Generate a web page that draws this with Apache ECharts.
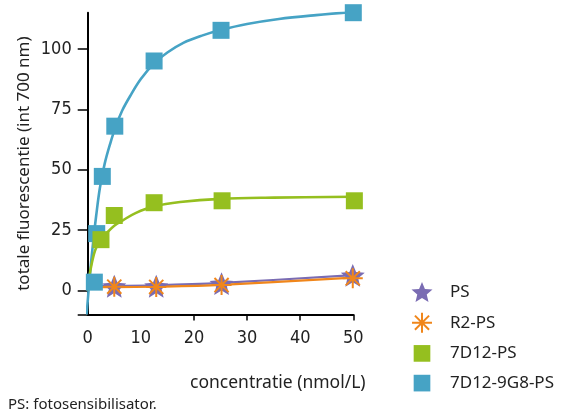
<!DOCTYPE html>
<html>
<head>
<meta charset="utf-8">
<script src="https://cdn.jsdelivr.net/npm/echarts@6/dist/echarts.min.js"></script>
<style>
  html, body { margin: 0; padding: 0; background: #fff; }
  #chart { width: 567px; height: 413px; }
</style>
</head>
<body>
<div id="chart"></div>
<script>
// Measured fluorescence (int 700 nm) against concentration (nmol/L)
const psX = [5.0, 12.9, 25.2, 49.9];
const psY = [1.7, 1.7, 2.8, 6.2];

const r2psX = [5.0, 12.9, 25.2, 49.9];
const r2psY = [1.5, 1.4, 2.2, 5.0];

const d7psX = [2.5, 5.0, 12.5, 25.3, 50.2];
const d7psY = [21.0, 31.0, 36.3, 37.1, 37.1];

const d9psX = [1.25, 1.7, 2.75, 5.1, 12.5, 25.1, 50.0];
const d9psY = [3.4, 23.5, 47.2, 68.0, 95.0, 107.7, 115.0];

// Fitted binding curves
const psFitX = [1.2, 5.0, 12.9, 25.2, 50.0];
const psFitY = [1.9, 1.9, 2.1, 3.1, 6.3];

const r2psFitX = [1.2, 5.0, 12.9, 25.2, 50.0];
const r2psFitY = [1.3, 1.3, 1.5, 2.3, 5.3];

const d7psFitX = [0, 0.3, 0.8, 1.4, 2.3, 3.6, 5.0, 6.6, 9.0, 12.5, 17.4, 25.0, 35.0, 50.0];
const d7psFitY = [0, 5.5, 11.5, 16.6, 20.5, 23.8, 26.8, 29.0, 32.0, 34.8, 36.6, 37.9, 38.4, 38.8];

const d9psFitX = [-0.2, 0.4, 1.0, 1.6, 2.3, 3.2, 4.2, 5.3, 6.5, 8.0, 10.0, 12.5, 15.0, 18.0, 21.5, 25.0, 30.0, 36.0, 43.0, 50.0];
const d9psFitY = [-10, 6, 19.5, 31, 42.5, 52.5, 60.5, 68, 74.5, 80.5, 87.5, 94, 98.5, 102.5, 105.5, 107.8, 110.3, 112.4, 114, 115.3];

// Axis ticks
const xLabels = [0, 10, 20, 30, 40, 50];
const xTicks = [20, 30, 40, 50];
const yLabels = [0, 25, 50, 75, 100];
const yTicks = [-10, 0, 25, 50, 75, 100];

const seriesNames = ['PS', 'R2-PS', '7D12-PS', '7D12-9G8-PS'];

const colPS = '#7a6cb3';
const colR2 = '#f0861b';
const colGreen = '#95bf1f';
const colBlue = '#46a3c5';

const starPath = 'path://M50,0L63.2,31.8L97.6,34.5L71.4,57L79.4,90.5L50,72.5L20.6,90.5L28.6,57L2.4,34.5L36.8,31.8Z';
const asteriskPath = 'path://M0,-10L0,10M-10,0L10,0M-7.07,-7.07L7.07,7.07M-7.07,7.07L7.07,-7.07';
const squarePath = 'path://M0,0H10V10H0Z';
// legend square with an empty margin so it sits a little smaller than the star
const legendSquarePath = 'path://M-1,-1L-1,-1M11,11L11,11M0,0H10V10H0Z';

const zip = (xs, ys) => xs.map((x, i) => [x, ys[i]]);

const labelFont = "'Liberation Sans Narrow', 'DejaVu Sans Condensed', sans-serif";
const textFont = "'Noto Sans', 'DejaVu Sans', sans-serif";

const fitLine = (name, xs, ys, color, width, z) => ({
  name: name,
  type: 'line',
  data: zip(xs, ys),
  showSymbol: false,
  symbol: 'none',
  smooth: 0.35,
  lineStyle: { color: color, width: width },
  z: z,
  silent: true
});

const chart = echarts.init(document.getElementById('chart'), null, { renderer: 'canvas' });

chart.setOption({
  animation: false,
  backgroundColor: '#fff',
  grid: { left: 87.7, right: 213.7, top: 12.7, bottom: 98.5, containLabel: false },
  xAxis: {
    type: 'value',
    min: 0,
    max: 50,
    interval: 10,
    splitLine: { show: false },
    axisLine: { onZero: false, lineStyle: { color: '#000', width: 2 } },
    axisTick: { customValues: xTicks, length: 6, lineStyle: { color: '#000', width: 1.5 } },
    axisLabel: { customValues: xLabels, margin: 15, fontSize: 18, color: '#222', fontFamily: labelFont }
  },
  yAxis: {
    type: 'value',
    min: -10,
    max: 115,
    splitLine: { show: false },
    axisLine: { onZero: false, lineStyle: { color: '#000', width: 2 } },
    axisTick: { customValues: yTicks, length: 10, lineStyle: { color: '#000', width: 1.5 } },
    axisLabel: { customValues: yLabels, margin: 16, fontSize: 18, color: '#222', fontFamily: labelFont },
    name: 'totale fluorescentie (int 700 nm)',
    nameLocation: 'middle',
    nameGap: 55,
    nameTextStyle: { fontSize: 17, color: '#222', fontFamily: textFont }
  },
  legend: {
    orient: 'vertical',
    left: 406,
    top: 277,
    itemWidth: 46,
    itemHeight: 20,
    itemGap: 9.7,
    textStyle: { fontSize: 17, color: '#222', fontFamily: textFont },
    data: [
      { name: 'PS', icon: starPath, itemStyle: { color: colPS } },
      { name: 'R2-PS', icon: asteriskPath, itemStyle: { color: 'rgba(0,0,0,0)', borderColor: colR2, borderWidth: 2 } },
      { name: '7D12-PS', icon: legendSquarePath, itemStyle: { color: colGreen } },
      { name: '7D12-9G8-PS', icon: legendSquarePath, itemStyle: { color: colBlue } }
    ]
  },
  graphic: [
    {
      type: 'text',
      left: 190,
      top: 374,
      style: { text: 'concentratie (nmol/L)', fontSize: 17.5, fill: '#222', fontFamily: textFont }
    },
    {
      type: 'text',
      left: 8,
      top: 397,
      style: { text: 'PS: fotosensibilisator.', fontSize: 15, fill: '#222', fontFamily: textFont }
    }
  ],
  series: [
    fitLine('fit 7D12-9G8-PS', d9psFitX, d9psFitY, colBlue, 2.6, 2),
    fitLine('fit 7D12-PS', d7psFitX, d7psFitY, colGreen, 2.6, 2),
    fitLine('fit PS', psFitX, psFitY, colPS, 2.2, 2),
    fitLine('fit R2-PS', r2psFitX, r2psFitY, colR2, 2.2, 2),
    {
      name: seriesNames[3],
      type: 'scatter',
      data: zip(d9psX, d9psY),
      symbol: squarePath,
      symbolSize: 17,
      clip: false,
      itemStyle: { color: colBlue, opacity: 1 },
      z: 3
    },
    {
      name: seriesNames[2],
      type: 'scatter',
      data: zip(d7psX, d7psY),
      symbol: squarePath,
      symbolSize: 17,
      clip: false,
      itemStyle: { color: colGreen, opacity: 1 },
      z: 4
    },
    {
      name: seriesNames[0],
      type: 'scatter',
      data: zip(psX, psY),
      symbol: starPath,
      symbolSize: 24,
      symbolKeepAspect: true,
      clip: false,
      itemStyle: { color: colPS, opacity: 1 },
      z: 5
    },
    {
      name: seriesNames[1],
      type: 'scatter',
      data: zip(r2psX, r2psY),
      symbol: asteriskPath,
      symbolSize: 20,
      clip: false,
      itemStyle: { color: 'rgba(0,0,0,0)', borderColor: colR2, borderWidth: 2, opacity: 1 },
      z: 6
    }
  ]
});
</script>
</body>
</html>
